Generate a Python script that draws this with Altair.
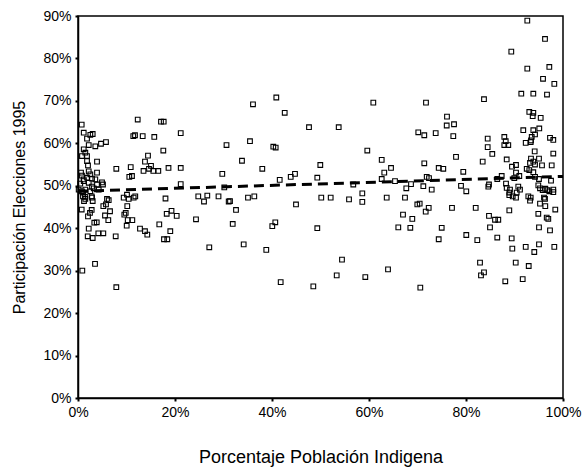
import altair as alt
import pandas as pd

# Porcentaje Población Indigena (%)
indigena = [
    0.76, 1.18, 2.54, 3.03, 1.86, 2.21, 3.57, 4.74, 5.77, 1.18, 1.51, 0.82, 1.86, 1.86, 3.92, 2.06,
    7.90, 10.87, 0.62, 2.21, 2.54, 3.92, 2.89, 3.57, 0.82, 1.18, 1.86, 4.95, 5.15, 10.58, 11.13,
    0.47, 1.18, 2.21, 3.92, 2.89, 0.14, 0.82, 1.51, 2.54, 3.24, 4.27, 1.03, 1.51, 2.89, 5.98, 6.33,
    9.42, 10.10, 10.45, 11.48, 11.81,
    0.76, 2.82, 2.47, 1.24, 3.03, 1.09, 1.44, 2.82, 10.16, 9.55, 9.84, 5.22, 5.77, 6.60, 5.57,
    6.25, 10.25, 11.20, 10.04, 2.06, 3.36, 3.86, 2.21, 2.00, 3.03, 4.19, 5.22, 7.77, 3.51, 0.89, 7.90,
    12.31, 17.11, 17.67, 11.40, 11.75, 13.34, 15.73, 21.18, 30.62, 17.59, 14.43, 13.81, 15.05,
    13.51, 14.64, 15.53, 16.56, 18.66, 21.18, 29.75, 21.18, 30.16, 18.04, 24.80, 26.66, 28.97,
    25.98, 31.07, 32.58, 18.29, 19.28, 20.35, 24.33, 31.90, 16.76, 12.78, 13.81, 14.29, 19.03,
    17.73, 18.41, 27.07,
    36.08, 40.89, 42.62, 60.89, 47.63, 53.75, 35.46, 40.27, 40.76, 59.65, 33.81, 38.00, 49.96,
    62.62, 64.54, 63.15, 62.62, 41.59, 43.86, 44.74, 49.34, 56.76, 65.36, 31.34, 35.05, 36.35,
    44.95, 50.16, 52.10, 55.88, 58.62, 58.62, 63.65, 40.06, 40.68, 49.34, 66.04, 34.16, 38.82,
    54.43, 63.92, 53.34, 59.24, 41.79, 48.52,
    71.75, 76.08, 76.02, 77.53, 70.16, 71.40, 73.75, 77.38, 77.94, 71.40, 74.37, 75.32, 79.44,
    71.90, 72.37, 67.69, 68.66, 71.20, 72.93, 78.97, 80.06, 67.42, 69.96, 70.45, 72.31, 71.69,
    77.11, 82.00, 67.01, 68.93, 68.52, 74.99, 74.37, 80.06, 82.33, 82.89, 70.58,
    92.64, 96.29, 89.34, 92.64, 97.18, 95.88, 98.21, 91.40, 93.88, 96.70, 83.71, 93.05, 93.88,
    93.75, 95.40, 91.81, 93.88, 95.11, 94.23, 93.55, 93.40, 93.34, 92.31, 97.32, 98.00, 84.47,
    87.90, 88.19, 87.90, 88.72, 84.47, 85.42, 83.44, 88.39, 94.16, 98.00, 93.40, 95.05, 93.88,
    93.20, 94.23, 95.67, 89.48, 90.31, 97.67, 90.31, 92.52, 93.05, 93.88, 87.36, 86.45, 89.96,
    90.99, 94.23, 95.05, 97.53, 84.74, 84.60, 88.25, 88.39, 89.07, 88.93, 88.93, 90.78, 91.13,
    90.45, 89.63, 90.31, 94.91, 95.26, 95.81, 96.35, 96.76, 97.18, 98.00, 98.00, 92.85, 93.34,
    96.08, 93.20, 84.74, 85.98, 86.66, 84.95, 88.93, 95.26, 96.29, 96.35, 94.91, 96.64, 96.97,
    98.41, 95.05, 97.32, 86.45, 89.42, 89.55, 92.31, 95.05, 94.08, 98.21, 90.25, 92.93, 83.71,
    83.09, 88.10, 91.69,
]

# Participación Elecciones 1995 (%)
participacion = [
    64.4, 62.5, 62.0, 62.2, 61.1, 59.6, 59.3, 59.9, 60.3, 58.6, 57.8, 57.0, 57.0, 55.8, 55.7, 54.8,
    54.0, 54.4, 53.1, 53.4, 52.7, 53.1, 51.7, 51.5, 52.4, 51.5, 51.9, 50.8, 50.3, 52.1, 52.3,
    50.5, 51.1, 50.7, 50.3, 49.8, 49.1, 48.7, 49.1, 48.7, 49.4, 49.1, 47.5, 46.9, 47.2, 46.9, 46.6,
    47.2, 47.9, 46.9, 47.2, 47.5,
    44.4, 44.3, 43.6, 46.4, 46.4, 48.4, 47.4, 47.5, 45.2, 43.2, 43.6, 45.2, 45.6, 44.0, 43.0,
    41.9, 41.9, 41.9, 40.6, 42.8, 41.3, 41.4, 39.9, 38.1, 37.7, 38.8, 38.8, 38.1, 31.6, 30.0, 26.1,
    65.6, 65.1, 65.1, 61.7, 61.9, 61.7, 61.5, 62.4, 59.6, 58.3, 57.1, 55.7, 54.7,
    53.5, 54.0, 53.5, 53.5, 54.2, 54.2, 52.8, 50.4, 49.6, 47.0, 47.5, 47.7, 47.5,
    46.3, 46.3, 44.3, 43.4, 44.1, 42.9, 42.1, 41.0, 40.9, 39.9, 39.3, 38.5, 39.3,
    37.4, 37.4, 35.5,
    69.2, 70.8, 67.2, 69.6, 63.8, 63.8, 60.5, 59.2, 59.0, 58.3, 55.9, 54.0, 54.9,
    56.1, 54.2, 53.1, 51.6, 51.4, 52.1, 52.8, 51.9, 50.3, 51.1, 46.4, 47.2, 47.5,
    45.6, 47.2, 47.2, 46.8, 48.2, 46.2, 47.2, 40.5, 41.4, 40.0, 40.2, 36.2, 34.9,
    32.6, 30.3, 28.9, 28.5, 27.3, 26.3,
    69.6, 66.3, 64.2, 64.5, 62.6, 61.9, 62.4, 61.7, 56.8, 55.3, 54.2, 54.0, 53.3,
    52.1, 51.8, 49.4, 50.4, 49.9, 49.1, 50.0, 48.7, 47.2, 45.6, 45.8, 44.8, 43.9,
    44.8, 44.8, 43.2, 42.2, 40.1, 40.1, 37.4, 38.4, 37.2, 31.9, 26.0,
    88.9, 84.6, 81.6, 77.6, 78.0, 75.2, 74.0, 71.7, 71.7, 71.5, 70.4, 67.4, 67.2,
    66.4, 66.0, 63.1, 63.1, 63.5, 62.1, 61.5, 60.7, 60.3, 60.1, 61.3, 60.8, 61.1,
    61.5, 60.5, 59.6, 59.6, 59.1, 57.5, 55.7, 56.2, 58.1, 57.6, 56.4, 56.4, 55.7,
    55.4, 55.0, 54.8, 54.5, 54.9, 54.8, 53.1, 54.0, 53.7, 53.2, 52.3, 51.6, 51.8,
    52.3, 52.1, 51.6, 51.2, 50.3, 49.8, 50.5, 49.5, 49.1, 48.4, 47.8, 49.8, 49.1,
    48.4, 47.5, 47.2, 50.1, 49.4, 49.0, 49.3, 49.0, 48.7, 49.1, 48.5, 47.5, 47.2,
    47.2, 46.5, 42.9, 42.0, 42.0, 40.2, 44.2, 45.8, 46.9, 45.2, 43.4, 42.5, 42.2,
    44.4, 40.2, 39.5, 37.8, 37.6, 35.2, 35.6, 36.2, 34.4, 35.6, 31.9, 31.1, 29.6,
    28.9, 27.5, 28.0,
]

# Recta de ajuste (extremos)
fit_x = [0, 100]
fit_y = [48.7, 52.2]

x_ticks = [0, 20, 40, 60, 80, 100]
y_ticks = [0, 10, 20, 30, 40, 50, 60, 70, 80, 90]

n = min(len(indigena), len(participacion))
pts = pd.DataFrame({"x": indigena[:n], "y": participacion[:n]})
fit = pd.DataFrame({"x": fit_x, "y": fit_y})

FONT = "Liberation Sans"

xscale = alt.Scale(domain=[0, 100], nice=False, zero=False)
yscale = alt.Scale(domain=[0, 90], nice=False, zero=False)

xaxis = alt.Axis(
    values=x_ticks, labelExpr="datum.value + '%'", title="Porcentaje Población Indigena",
    grid=False, tickSize=3, tickWidth=2, tickColor="black", domainColor="black", domainWidth=1.5,
    labelFont=FONT, labelFontSize=14, labelColor="black", labelPadding=4,
    titleFont=FONT, titleFontSize=18, titleFontWeight="normal", titleColor="black", titlePadding=29,
    labelFlush=False, labelOverlap=False,
)
yaxis = alt.Axis(
    values=y_ticks, labelExpr="datum.value + '%'", title="Participación Elecciones 1995",
    grid=False, tickSize=3, tickWidth=2, tickColor="black", domainColor="black", domainWidth=1.5,
    labelFont=FONT, labelFontSize=14, labelColor="black", labelPadding=4,
    titleFont=FONT, titleFontSize=16, titleFontWeight="normal", titleColor="black", titlePadding=15,
    labelFlush=False, labelOverlap=False,
)

points = alt.Chart(pts).mark_point(
    shape="square", filled=False, size=22, stroke="black", strokeWidth=1.1, opacity=1
).encode(
    x=alt.X("x:Q", scale=xscale, axis=xaxis),
    y=alt.Y("y:Q", scale=yscale, axis=yaxis),
)

line = alt.Chart(fit).mark_line(
    color="black", strokeWidth=3, strokeDash=[10, 6]
).encode(
    x=alt.X("x:Q", scale=xscale),
    y=alt.Y("y:Q", scale=yscale),
)

chart = alt.layer(points, line).properties(
    width=485, height=382,
    autosize=alt.AutoSizeParams(type="none"),
    padding={"left": 78, "top": 16, "right": 19, "bottom": 70},
    background="white",
).configure_view(stroke="black", strokeWidth=1.5)

chart.save("out.html", embed_options={"renderer": "svg", "actions": False})
